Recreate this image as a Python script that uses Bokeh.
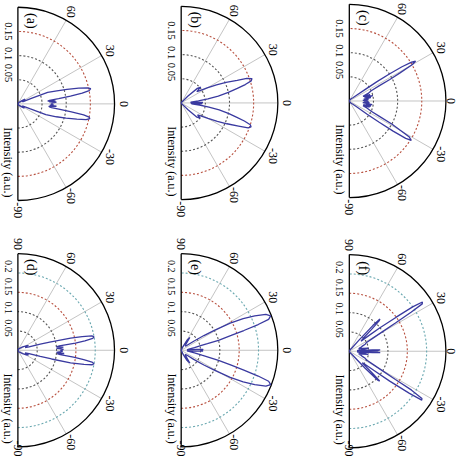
import numpy as np
from bokeh.plotting import figure
from bokeh.models import Range1d
from bokeh.embed import file_html
from bokeh.resources import INLINE
from bokeh.core.properties import value

# ---------------- data ----------------
panel_labels = ["(a)", "(b)", "(c)", "(d)", "(e)", "(f)"]
rmax_top = 0.2
rmax_bottom = 0.25
ticks_top = [0.05, 0.1, 0.15]
ticks_bottom = [0.05, 0.1, 0.15, 0.2]
tick_labels_top = ["0.05", "0.1", "0.15"]
tick_labels_bottom = ["0.05", "0.1", "0.15", "0.2"]
spoke_angles = [60, 30, 0, -30, -60]
angle_labels = ["60", "30", "0", "-30", "-60"]
label_90 = "90"
label_m90 = "-90"
axis_title = "Intensity  (a.u.)"

ang_a = [90, 60, 45, 38, 33, 28, 24, 22, 21, 18.5, 16.5, 14.5, 13, 11.8, 10.5, 9.5, 8.5, 7.5, 6.5, 5.5,
         4.5, 3.5, 2.5, 1.5, 0.5, -0.5, -1.5, -2.5, -3.5, -4.5, -5.5, -6.5, -7.5, -8.5, -9.5, -10.5, -11.6,
         -13, -14.5, -16.5, -18.5, -21, -22, -24, -28, -33, -38, -45, -60, -90]
r_a = [0, 0.003, 0.006, 0.012, 0.018, 0.01, 0.012, 0.03, 0.066, 0.085, 0.106, 0.13, 0.148, 0.154, 0.15,
       0.135, 0.11, 0.085, 0.066, 0.062, 0.078, 0.065, 0.08, 0.07, 0.072, 0.068, 0.074, 0.066, 0.08, 0.064,
       0.066, 0.07, 0.088, 0.112, 0.138, 0.15, 0.152, 0.145, 0.126, 0.104, 0.084, 0.062, 0.028, 0.01, 0.012,
       0.016, 0.01, 0.005, 0.003, 0]

ang_b = [90, 60, 50, 45, 42, 39, 36, 33, 30, 27, 24.5, 22, 20.5, 19, 17.5, 16, 14.5, 12.5, 10.5, 8.5,
         6.5, 4.5, 3, 1.5, 0, -1.5, -3, -4.5, -6.5, -8.5, -10.5, -12.5, -14.5, -16, -17.5, -19, -20.5, -22,
         -24.5, -27, -30, -33, -36, -39, -42, -45, -50, -60, -90]
r_b = [0, 0.002, 0.004, 0.02, 0.045, 0.052, 0.04, 0.048, 0.062, 0.082, 0.102, 0.125, 0.145, 0.155, 0.152,
       0.138, 0.12, 0.1, 0.078, 0.056, 0.036, 0.02, 0.02, 0.045, 0.04, 0.044, 0.02, 0.022, 0.038, 0.058,
       0.08, 0.1, 0.118, 0.136, 0.15, 0.153, 0.148, 0.128, 0.104, 0.084, 0.064, 0.05, 0.042, 0.05, 0.044,
       0.02, 0.004, 0.002, 0]

ang_c = [90, 60, 50, 42, 38, 36, 35, 34, 33, 32, 31, 30, 29, 28, 27, 25, 22, 19, 17, 15, 13, 11, 9, 7, 5,
         3, 1, 0, -1, -3, -5, -7, -9, -11, -13, -15, -17, -19, -22, -25, -27, -28.5, -30, -31, -32.5, -33.5,
         -34.5, -35.5, -36.5, -38, -42, -50, -60, -90]
r_c = [0, 0.003, 0.006, 0.01, 0.02, 0.04, 0.07, 0.1, 0.13, 0.152, 0.16, 0.15, 0.12, 0.095, 0.07, 0.05,
       0.042, 0.03, 0.045, 0.032, 0.05, 0.034, 0.045, 0.03, 0.04, 0.028, 0.038, 0.035, 0.04, 0.03, 0.042,
       0.028, 0.048, 0.035, 0.046, 0.03, 0.044, 0.03, 0.04, 0.05, 0.07, 0.1, 0.125, 0.145, 0.152, 0.14,
       0.11, 0.075, 0.045, 0.02, 0.01, 0.006, 0.003, 0]

ang_d = [90, 60, 45, 35, 28, 24, 20, 17, 15.5, 14.5, 13, 12, 11, 10, 9, 8, 7, 6, 5, 4, 3, 2, 1, 0, -1, -2,
         -3, -4, -5, -6, -7, -8, -9, -10, -11, -12, -13.5, -14.5, -15.5, -17, -20, -24, -28, -35, -45, -60, -90]
r_d = [0, 0.005, 0.008, 0.015, 0.025, 0.03, 0.02, 0.03, 0.06, 0.085, 0.14, 0.17, 0.195, 0.2, 0.196, 0.175,
       0.15, 0.108, 0.1, 0.118, 0.1, 0.112, 0.118, 0.11, 0.116, 0.11, 0.1, 0.12, 0.102, 0.11, 0.145, 0.172,
       0.194, 0.2, 0.196, 0.175, 0.14, 0.09, 0.06, 0.03, 0.02, 0.03, 0.025, 0.015, 0.008, 0.005, 0]

ang_e = [90, 65, 60, 56, 52, 46, 40, 36, 33, 31, 29, 27, 25, 23, 21, 19.5, 18.5, 17.5, 16.5, 15, 14, 13.3,
         11, 8, 5, 3.5, 2.5, 1.5, 0, -1.5, -2.5, -3.5, -5, -8, -11, -13.3, -14, -15, -16.5, -17.5, -18.5,
         -19.5, -21, -23, -25, -27, -29, -31, -33, -36, -40, -46, -52, -56, -60, -65, -90]
r_e = [0, 0.01, 0.03, 0.04, 0.02, 0.015, 0.02, 0.04, 0.07, 0.1, 0.145, 0.18, 0.21, 0.238, 0.248, 0.24,
       0.21, 0.17, 0.135, 0.1, 0.07, 0.054, 0.035, 0.02, 0.015, 0.04, 0.055, 0.057, 0.05, 0.056, 0.055,
       0.04, 0.015, 0.02, 0.035, 0.055, 0.072, 0.1, 0.135, 0.17, 0.21, 0.24, 0.248, 0.238, 0.21, 0.18,
       0.145, 0.1, 0.07, 0.04, 0.02, 0.015, 0.02, 0.04, 0.03, 0.01, 0]

ang_f = [90, 60, 52, 49, 47.5, 46.5, 45.5, 44.5, 43, 41, 39, 37.5, 36, 35, 34, 33, 32.3, 31.5, 30.5, 29,
         27, 24, 21, 18, 15, 12, 9, 7, 5, 3.5, 2.5, 1.5, 0.5, -0.5, -1.5, -2.5, -3.5, -5, -7, -9, -12, -15,
         -18, -21, -24, -27, -29, -30.5, -31.5, -32, -33, -34, -35, -36.5, -38, -40, -42, -43.5, -44.5,
         -45.5, -47, -50, -60, -90]
r_f = [0, 0.005, 0.01, 0.04, 0.09, 0.115, 0.11, 0.08, 0.05, 0.04, 0.06, 0.1, 0.15, 0.2, 0.228, 0.225,
       0.19, 0.14, 0.1, 0.07, 0.05, 0.045, 0.035, 0.03, 0.025, 0.035, 0.05, 0.03, 0.02, 0.06, 0.08, 0.072,
       0.03, 0.03, 0.07, 0.08, 0.06, 0.02, 0.03, 0.05, 0.035, 0.025, 0.03, 0.035, 0.045, 0.05, 0.07, 0.1,
       0.14, 0.19, 0.224, 0.226, 0.19, 0.13, 0.08, 0.05, 0.045, 0.08, 0.11, 0.105, 0.06, 0.01, 0.005, 0]

series_angles = [ang_a, ang_b, ang_c, ang_d, ang_e, ang_f]
series_radii = [r_a, r_b, r_c, r_d, r_e, r_f]

# ---------------- layout ----------------
origins = [(0.18, 3.67), (1.87, 3.68), (3.61, 3.70),
           (0.18, 1.12), (1.87, 1.12), (3.61, 1.11)]
R = 1.0
tick_shift_top = [0.07, 0.02, 0.0]
tick_shift_bottom = [0.03, 0.04, 0.06, 0.07]
curve_color = "#3a3aa0"
grey_ring = "#555555"
red_ring = "#b8503f"
teal_ring = "#6aa8b0"
spoke_color = "#c4c4c4"
FONT = value("Liberation Serif")
ROT = -np.pi / 2

p = figure(width=458, height=458, output_backend="svg", toolbar_location=None,
           x_range=Range1d(0, 4.74), y_range=Range1d(0, 4.74), min_border=0)
p.axis.visible = False
p.grid.visible = False
p.outline_line_color = None
p.background_fill_color = "white"


def txt(x, y, s, size, align="center"):
    p.text(x=x, y=y, text=s, angle=ROT, text_font=FONT, text_font_size=size,
           text_align=align, text_baseline="middle", text_color="black")


for i in range(6):
    ox, oy = origins[i]
    top = i < 3
    right_col = (i % 3) == 2
    rmax = rmax_top if top else rmax_bottom
    ticks = ticks_top if top else ticks_bottom
    tlabels = tick_labels_top if top else tick_labels_bottom
    shifts = tick_shift_top if top else tick_shift_bottom
    ring_colors = [grey_ring, grey_ring, red_ring] if top else [grey_ring, grey_ring, red_ring, teal_ring]

    th = np.radians(spoke_angles)
    p.segment(x0=[ox] * len(th), y0=[oy] * len(th), x1=list(ox + R * np.cos(th)),
              y1=list(oy + R * np.sin(th)), line_color=spoke_color, line_width=1)
    for t, c in zip(ticks, ring_colors):
        p.arc(x=[ox], y=[oy], radius=R * t / rmax, start_angle=-np.pi / 2, end_angle=np.pi / 2,
              line_color=c, line_dash="2 2", line_width=1.1)
    p.arc(x=[ox], y=[oy], radius=R, start_angle=-np.pi / 2, end_angle=np.pi / 2,
          line_color="black", line_width=1.3)
    p.segment(x0=[ox], y0=[oy - R], x1=[ox], y1=[oy + R], line_color="black", line_width=1.3)

    a = np.radians(series_angles[i])
    rr = np.array(series_radii[i]) / rmax * R
    p.line(x=list(ox + rr * np.cos(a)), y=list(oy + rr * np.sin(a)),
           line_color=curve_color, line_width=1.3)

    txt([ox - 0.10] * len(ticks), [oy + R * t / rmax + s for t, s in zip(ticks, shifts)], tlabels,
        "10.5px" if top else "10px")
    txt([ox - 0.10], [oy - 0.62], [axis_title], "12px")
    lab_r = [1.1, 1.1, 1.05 if right_col else 1.1, 1.1, 1.1]
    txt([ox + rl * R * np.cos(t) for rl, t in zip(lab_r, th)],
        [oy + rl * R * np.sin(t) for rl, t in zip(lab_r, th)], angle_labels, "12px")
    if top:
        txt([ox], [oy - 1.1 * R], [label_m90], "12px")
    else:
        txt([ox], [oy + 1.1 * R], [label_90], "12px")
        txt([ox], [0.02], [label_m90], "12px", align="right")
    txt([ox + 0.145], [oy + 0.86], [panel_labels[i]], "14px")

open("out.html", "w").write(file_html(p, INLINE))
